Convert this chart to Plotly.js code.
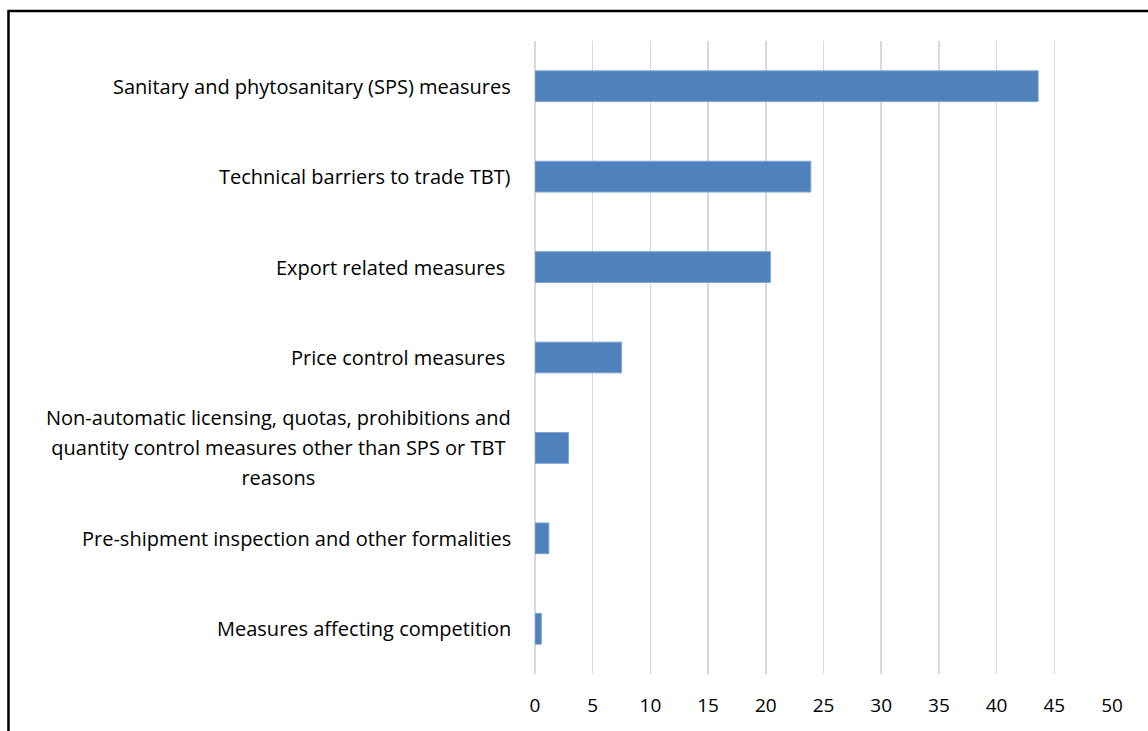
<!DOCTYPE html>
<html>
<head>
<meta charset="utf-8">
<script src="https://cdn.plot.ly/plotly-3.0.1.min.js"></script>
<style>
html,body{margin:0;padding:0;background:#fff;}
#chart{width:1148px;height:731px;}
</style>
</head>
<body>
<div id="chart"></div>
<script>
const categories = [
  "Sanitary and phytosanitary (SPS) measures",
  "Technical barriers to trade TBT)",
  "Export related measures\u00a0",
  "Price control measures\u00a0",
  "Non-automatic licensing, quotas, prohibitions and<br>quantity control measures other than SPS or TBT<br>reasons",
  "Pre-shipment inspection and other formalities",
  "Measures affecting competition"
];
const values = [43.6, 23.9, 20.4, 7.5, 2.9, 1.2, 0.55];
const xTicks = [0, 5, 10, 15, 20, 25, 30, 35, 40, 45, 50];

const FONT = "'Open Sans', 'Noto Sans', sans-serif";
const FS = 20;

const trace = {
  type: 'bar',
  orientation: 'h',
  x: values,
  y: categories,
  marker: {color: '#4F81BD', line: {color: '#7FA3D0', width: 1}},
  hoverinfo: 'x+y'
};

const annotations = categories.map((c) => ({
  xref: 'paper', yref: 'y',
  x: 0, y: c,
  xanchor: 'right', yanchor: 'middle',
  xshift: -22,
  text: c.split('<br>').map(s => '<span style="font-size:' + FS + 'px">' + s + '</span>').join('<br>'),
  align: 'center',
  showarrow: false,
  font: {family: FONT, size: 23, color: '#000'}
}));

const layout = {
  width: 1148, height: 731,
  margin: {l: 535, r: 36, t: 41, b: 57, pad: 0},
  paper_bgcolor: '#fff',
  plot_bgcolor: '#fff',
  showlegend: false,
  bargap: 0.66,
  font: {family: FONT, size: FS, color: '#000'},
  xaxis: {
    range: [0, 50],
    tickvals: xTicks,
    ticktext: xTicks.map(String),
    showgrid: true,
    gridcolor: '#D9D9D9',
    gridwidth: 1.5,
    zeroline: true,
    zerolinecolor: '#D9D9D9',
    zerolinewidth: 1.5,
    showline: false,
    ticks: '',
    ticklabelstandoff: 18,
    tickfont: {family: FONT, size: FS - 1, color: '#000'},
    fixedrange: true
  },
  yaxis: {
    type: 'category',
    autorange: 'reversed',
    showticklabels: false,
    showgrid: false,
    zeroline: false,
    showline: false,
    ticks: '',
    fixedrange: true
  },
  annotations: annotations,
  shapes: [{
    type: 'rect', xref: 'paper', yref: 'paper', layer: 'above',
    x0: -0.9125, x1: 1.2, y0: -0.3, y1: 1.0475,
    line: {color: '#000', width: 2.5},
    fillcolor: 'rgba(0,0,0,0)'
  }]
};

Plotly.newPlot('chart', [trace], layout, {displayModeBar: false, staticPlot: true});
</script>
</body>
</html>
